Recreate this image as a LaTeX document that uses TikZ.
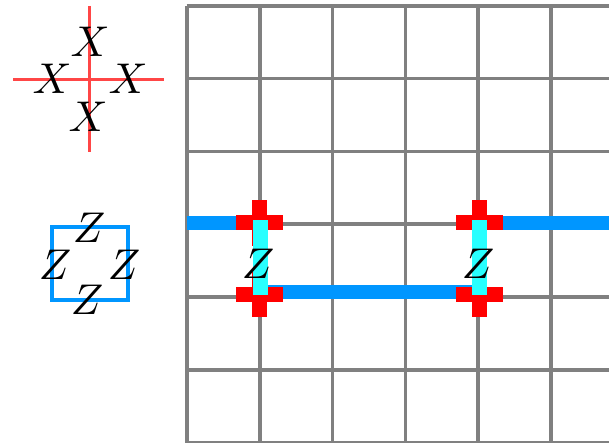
\documentclass[tikz,border=0pt]{standalone}
\definecolor{gridgray}{RGB}{128,128,128}
\definecolor{bblue}{RGB}{0,150,255}
\definecolor{lred}{RGB}{255,70,70}
\definecolor{crossred}{RGB}{255,0,0}
\definecolor{ccyan}{RGB}{40,255,255}
\tikzset{
  lbl/.style={inner sep=0pt, scale=4.3},
  gridline/.style={gridgray, line width=3.8, line cap=square},
  bluebar/.style={bblue, line width=14, line cap=butt},
  crossmark/.pic={
    \fill[crossred] (-23.5,-7.5) rectangle (23.5,7.5);
    \fill[crossred] (-7.5,-22.5) rectangle (7.5,22.5);
  },
  cyanbar/.style={fill=ccyan, draw=none}
}
\begin{document}
\begin{tikzpicture}[x=1pt,y=-1pt]
\useasboundingbox (0,0) rectangle (609,443);
\fill[white] (0,0) rectangle (609,443);
% grid
\foreach \i in {0,...,5}
  \draw[gridline] ({186.7+72.9*\i},5.7) -- ({186.7+72.9*\i},450);
\foreach \j in {0,...,6}
  \draw[gridline] (186.7,{5.7+72.9*\j}) -- (615,{5.7+72.9*\j});
% crosses positions
\coordinate (c1) at (259,223);
\coordinate (c2) at (259,294);
\coordinate (c3) at (479,223);
\coordinate (c4) at (479,294);
\coordinate (lend) at (186.7,223);
\coordinate (rend) at (612,223);
% blue bars
\draw[bluebar] (lend) -- (c1);
\draw[bluebar] (c3) -- (rend);
\draw[bluebar] (259,292) -- (479,292);
% red crosses
\pic at (c1) {crossmark};
\pic at (c2) {crossmark};
\pic at (c3) {crossmark};
\pic at (c4) {crossmark};
% cyan bars
\fill[cyanbar] (252.5,220) rectangle (267.5,295);
\fill[cyanbar] (471.5,220) rectangle (486.5,295);
\node[lbl] (z1) at (258,264) {$Z$};
\node[lbl] (z2) at (478,264) {$Z$};
% left X symbol
\coordinate (xt) at (89,6);
\coordinate (xb) at (89,152);
\coordinate (xl) at (13,80);
\coordinate (xr) at (164,80);
\draw[lred, line width=3] (xt) -- (xb);
\draw[lred, line width=3] (xl) -- (xr);
\node[lbl] (xtop) at (90,42) {$X$};
\node[lbl] (xleft) at (52,79) {$X$};
\node[lbl] (xright) at (128,79) {$X$};
\node[lbl] (xbot) at (88,117) {$X$};
% left Z square
\draw[bblue, line width=3.3] (52,227) rectangle (128,300);
\node[lbl] (ztop) at (89,228) {$Z$};
\node[lbl] (zleft) at (55,265) {$Z$};
\node[lbl] (zright) at (124,265) {$Z$};
\node[lbl] (zbot) at (87,300) {$Z$};
\end{tikzpicture}
\end{document}
